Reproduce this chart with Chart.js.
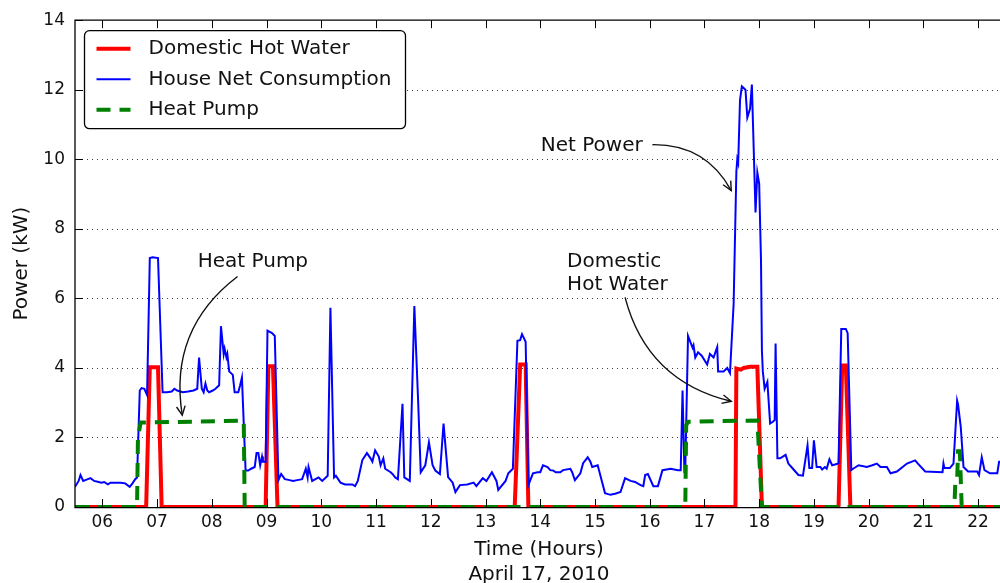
<!DOCTYPE html>
<html>
<head>
<meta charset="utf-8">
<script src="https://cdn.jsdelivr.net/npm/chart.js@4.4.0/dist/chart.umd.min.js"></script>
<style>
  html, body { margin: 0; padding: 0; background: #fff; overflow: hidden; }
  #wrap { position: relative; width: 1000px; height: 583px; }
</style>
</head>
<body>
<div id="wrap"><canvas id="c"></canvas></div>
<script>
// House power log for April 17, 2010 — time of day (HH:MM) and power in kW.

const netTimes = [
  '05:30','05:34','05:36','05:39','05:42','05:47','05:51','05:56','05:59','06:02','06:06','06:09','06:13','06:20','06:25','06:30','06:33','06:36','06:38',
  '06:41','06:43','06:46','06:49','06:52','06:55','07:01','07:06','07:11','07:16','07:19','07:22','07:28','07:34','07:40','07:44','07:46','07:49','07:51',
  '07:53','07:55','07:57','08:01','08:04','08:08','08:10','08:13','08:14','08:16','08:17','08:19','08:23','08:25','08:29','08:31','08:33','08:37','08:40',
  '08:43','08:47','08:49','08:51','08:53','08:55','08:56','08:59','09:01','09:06','09:09','09:13','09:16','09:20','09:24','09:29','09:35','09:39','09:43',
  '09:45','09:46','09:50','09:57','10:01','10:07','10:10','10:14','10:16','10:21','10:26','10:34','10:37','10:40','10:45','10:50','10:54','10:56','10:59',
  '11:03','11:05','11:08','11:10','11:16','11:18','11:21','11:24','11:29','11:31','11:37','11:42','11:46','11:49','11:54','11:58','12:02','12:05','12:10',
  '12:14','12:19','12:24','12:27','12:32','12:40','12:47','12:50','12:57','13:01','13:07','13:12','13:14','13:22','13:25','13:30','13:35','13:38','13:40',
  '13:44','13:47','13:52','13:57','14:00','14:03','14:08','14:11','14:14','14:17','14:22','14:25','14:33','14:35','14:38','14:44','14:47','14:52','14:55',
  '14:57','15:03','15:07','15:11','15:17','15:22','15:28','15:33','15:39','15:44','15:50','15:53','15:55','15:58','16:04','16:09','16:14','16:23','16:31',
  '16:34','16:36','16:38','16:39','16:42','16:47','16:48','16:50','16:53','16:57','17:03','17:06','17:10','17:14','17:15','17:21','17:25','17:28','17:32',
  '17:35','17:36','17:37','17:39','17:41','17:45','17:47','17:50','17:52','17:56','17:58','18:00','18:02','18:03','18:04','18:06','18:09','18:12','18:15',
  '18:17','18:18','18:20','18:23','18:29','18:32','18:37','18:43','18:48','18:53','18:55','18:58','19:00','19:03','19:07','19:09','19:12','19:14','19:17',
  '19:20','19:23','19:27','19:30','19:35','19:37','19:41','19:43','19:49','19:58','20:04','20:09','20:13','20:20','20:24','20:31','20:42','20:51','20:54',
  '21:02','21:21','21:22','21:23','21:29','21:33','21:37','21:38','21:41','21:44','21:49','21:59','22:01','22:04','22:07','22:13','22:21','22:23','22:27'
];
const netKW = [
  0.58,0.75,0.92,0.75,0.78,0.83,0.75,0.72,0.70,0.72,0.65,0.70,0.70,0.70,0.68,0.58,0.68,0.80,0.85,
  3.35,3.42,3.40,3.22,7.16,7.18,7.16,3.30,3.30,3.32,3.40,3.35,3.30,3.32,3.35,3.40,4.30,3.40,3.30,
  3.55,3.35,3.30,3.35,3.40,3.50,5.20,4.40,4.55,4.30,4.40,3.90,3.80,3.30,3.30,3.50,3.72,1.05,1.05,
  1.10,1.15,1.55,1.55,1.20,1.45,1.30,1.30,5.07,5.00,4.92,0.77,0.95,0.80,0.78,0.75,0.78,0.80,1.10,
  0.85,1.15,0.75,0.85,0.75,0.90,5.73,0.85,0.90,0.70,0.65,0.65,0.60,0.75,1.35,1.55,1.40,1.30,1.63,
  1.45,1.20,1.40,1.10,1.00,0.95,0.85,0.80,2.97,0.85,0.75,5.78,3.15,1.00,1.20,1.86,1.20,1.05,0.95,
  2.40,0.86,0.70,0.43,0.63,0.65,0.70,0.60,0.83,0.75,1.00,0.75,0.49,0.75,0.97,1.10,4.78,4.80,4.97,
  4.75,0.63,0.97,1.00,1.00,1.20,1.15,1.06,1.05,1.00,1.00,1.06,1.10,1.00,0.77,0.97,1.26,1.43,1.30,
  1.15,1.20,0.80,0.40,0.35,0.38,0.43,0.83,0.75,0.72,0.63,0.60,0.92,0.95,0.60,0.60,1.06,1.10,1.06,
  1.06,3.35,1.06,1.10,4.92,4.58,4.65,4.30,4.45,4.35,4.10,4.40,4.30,4.60,3.90,3.90,4.00,3.85,5.84,
  9.65,10.0,9.90,11.7,12.1,12.0,11.2,11.45,12.15,8.47,9.62,9.30,7.10,4.50,3.90,3.40,3.60,2.40,2.45,
  2.50,4.70,1.40,1.40,1.50,1.25,1.10,0.92,0.90,1.77,1.12,1.12,1.92,1.15,1.15,1.08,1.15,1.10,1.37,
  1.20,1.22,1.25,5.12,5.12,5.00,1.06,1.10,1.20,1.15,1.20,1.25,1.15,1.15,0.97,1.02,1.25,1.34,1.25,
  1.02,1.00,1.25,1.12,1.12,1.25,3.06,2.95,2.30,1.15,1.02,1.02,0.92,1.43,1.06,0.97,0.97,1.30,1.30
];

const dhwTimes = ['05:30','06:48','06:52','07:01','07:05','08:59','09:02','09:07','09:12','13:32','13:38','13:44','13:47',
                  '17:34','17:35','17:40','17:43','17:50','17:58','18:03','19:27','19:31','19:35','19:40','22:30'];
const dhwKW    = [0, 0, 4.02, 4.02, 0, 0, 4.05, 4.05, 0, 0, 4.1, 4.1, 0,
                  0, 3.98, 3.95, 4.0, 4.03, 4.03, 0, 0, 4.07, 4.07, 0, 0];

const hpTimes = ['05:30','06:38','06:39','06:42','08:35','08:36','16:39','16:40','16:42','17:58','18:03',
                 '21:34','21:35','21:37','21:38','21:40','21:42','22:30'];
const hpKW    = [0, 0, 2.0, 2.43, 2.48, 0, 0, 2.35, 2.45, 2.49, 0,
                 0, 0.7, 0.75, 1.6, 1.6, 0, 0];

const hourTicks  = [6, 7, 8, 9, 10, 11, 12, 13, 14, 15, 16, 17, 18, 19, 20, 21, 22];
const powerTicks = [0, 2, 4, 6, 8, 10, 12, 14];

const seriesNames = ['Domestic Hot Water', 'House Net Consumption', 'Heat Pump'];

// Callouts: text centre, arrow tail and arrow tip, all in (hour, kW)
const callouts = [
  { lines: ['Heat Pump'],             at: [8.75, 7.12],  from: [8.47, 6.63],  to: [7.46, 2.64], rad: 0.3 },
  { lines: ['Net Power'],             at: [14.94, 10.44], from: [16.05, 10.42], to: [17.49, 9.10], rad: -0.3 },
  { lines: ['Domestic', 'Hot Water'], at: [15.41, 6.78], from: [15.55, 6.03], to: [17.49, 3.04], rad: 0.3 }
];

const toHours = s => { const [h, m] = s.split(':').map(Number); return h + m / 60; };
const pairs = (times, vals) => times.map((t, i) => ({ x: toHours(t), y: vals[i] }));

const FONT = 'DejaVu Sans';
const INK = '#111';

const colors = { dhw: '#ff0000', net: '#0000ff', hp: '#008000' };

function roundRectPath(ctx, x, y, w, h, r) {
  ctx.beginPath();
  ctx.moveTo(x + r, y);
  ctx.arcTo(x + w, y, x + w, y + h, r);
  ctx.arcTo(x + w, y + h, x, y + h, r);
  ctx.arcTo(x, y + h, x, y, r);
  ctx.arcTo(x, y, x + w, y, r);
  ctx.closePath();
}

const decorations = {
  id: 'decorations',
  beforeDatasetsDraw(chart) {
    const { ctx, chartArea: a, scales: { y } } = chart;
    ctx.save();
    ctx.strokeStyle = 'rgba(0,0,0,0.75)';
    ctx.lineWidth = 1;
    ctx.setLineDash([1, 4]);
    for (const v of powerTicks) {
      if (v <= y.min || v >= y.max) continue;
      const yy = Math.round(y.getPixelForValue(v)) + 0.5;
      ctx.beginPath(); ctx.moveTo(a.left + 2, yy); ctx.lineTo(a.right, yy); ctx.stroke();
    }
    ctx.restore();
  },
  afterDatasetsDraw(chart) {
    const { ctx, chartArea: a, scales: { x, y } } = chart;
    ctx.save();
    // axes frame
    ctx.strokeStyle = '#000';
    ctx.lineWidth = 1.3;
    ctx.setLineDash([]);
    ctx.beginPath();
    ctx.moveTo(a.right + 2, a.top); ctx.lineTo(a.left, a.top);
    ctx.lineTo(a.left, a.bottom + 0.6); ctx.lineTo(a.right + 2, a.bottom + 0.6);
    ctx.stroke();
    // inward tick marks
    ctx.lineWidth = 1;
    const tl = 8;
    for (const h of hourTicks) {
      const xx = Math.round(x.getPixelForValue(h)) + 0.5;
      ctx.beginPath();
      ctx.moveTo(xx, a.bottom); ctx.lineTo(xx, a.bottom - tl);
      ctx.moveTo(xx, a.top); ctx.lineTo(xx, a.top + tl);
      ctx.stroke();
    }
    for (const v of powerTicks) {
      const yy = Math.round(y.getPixelForValue(v)) + 0.5;
      ctx.beginPath(); ctx.moveTo(a.left, yy); ctx.lineTo(a.left + tl, yy); ctx.stroke();
    }

    // callouts with curved arrows
    ctx.font = `20px "${FONT}"`;
    ctx.fillStyle = INK;
    ctx.textBaseline = 'alphabetic';
    ctx.textAlign = 'left';
    const lh = 23.3, cap = 14.6;
    for (const c of callouts) {
      const cx = x.getPixelForValue(c.at[0]);
      const cy = y.getPixelForValue(c.at[1]);
      const maxW = Math.max(...c.lines.map(s => ctx.measureText(s).width));
      const left = cx - maxW / 2;
      const firstCenter = cy - (c.lines.length - 1) * lh / 2;
      c.lines.forEach((s, i) => ctx.fillText(s, left, firstCenter + i * lh + cap / 2));

      const x0 = x.getPixelForValue(c.from[0]), y0 = y.getPixelForValue(c.from[1]);
      const x1 = x.getPixelForValue(c.to[0]),   y1 = y.getPixelForValue(c.to[1]);
      const mx = (x0 + x1) / 2, my = (y0 + y1) / 2;
      const dx = x1 - x0, dyUp = -(y1 - y0);
      const qx = mx + c.rad * dyUp;
      const qy = my + c.rad * dx;
      ctx.strokeStyle = INK;
      ctx.lineWidth = 1.4;
      ctx.beginPath(); ctx.moveTo(x0, y0); ctx.quadraticCurveTo(qx, qy, x1, y1); ctx.stroke();
      const ang = Math.atan2(y1 - qy, x1 - qx);
      const hl = 10, hw = 0.45;
      ctx.beginPath();
      ctx.moveTo(x1 - hl * Math.cos(ang - hw), y1 - hl * Math.sin(ang - hw));
      ctx.lineTo(x1, y1);
      ctx.lineTo(x1 - hl * Math.cos(ang + hw), y1 - hl * Math.sin(ang + hw));
      ctx.stroke();
    }

    // legend box
    const lx = a.left + 9.5, ly = a.top + 10.5, lw = 321, lhBox = 98;
    roundRectPath(ctx, lx, ly, lw, lhBox, 5);
    ctx.fillStyle = '#fff'; ctx.fill();
    ctx.strokeStyle = '#000'; ctx.lineWidth = 1.3; ctx.stroke();
    const styles = [
      { color: colors.dhw, width: 4, dash: [] },
      { color: colors.net, width: 2, dash: [] },
      { color: colors.hp, width: 4, dash: [14, 9] }
    ];
    seriesNames.forEach((name, i) => {
      const base = ly + 23.5 + i * 30.5;
      const sy = base - 5.5;
      ctx.strokeStyle = styles[i].color;
      ctx.lineWidth = styles[i].width;
      ctx.setLineDash(styles[i].dash);
      ctx.lineCap = 'butt';
      ctx.beginPath(); ctx.moveTo(lx + 12, sy); ctx.lineTo(lx + 46, sy); ctx.stroke();
      ctx.setLineDash([]);
      ctx.fillStyle = INK;
      ctx.fillText(name, lx + 64, base);
    });
    ctx.restore();
  },
  afterDraw(chart) {
    const { ctx, chartArea: a } = chart;
    ctx.save();
    ctx.fillStyle = INK;
    ctx.font = `20px "${FONT}"`;
    ctx.textAlign = 'center';
    ctx.textBaseline = 'alphabetic';
    const midX = (a.left + a.right) / 2 + 1.5;
    ctx.fillText('Time (Hours)', midX, a.bottom + 48);
    ctx.fillText('April 17, 2010', midX, a.bottom + 72.5);
    ctx.translate(27, (a.top + a.bottom) / 2);
    ctx.rotate(-Math.PI / 2);
    ctx.fillText('Power (kW)', 0, 0);
    ctx.restore();
  }
};

new Chart(document.getElementById('c'), {
  type: 'line',
  data: {
    datasets: [
      { label: seriesNames[0], data: pairs(dhwTimes, dhwKW), borderColor: colors.dhw, borderWidth: 4, order: 3, clip: 0 },
      { label: seriesNames[1], data: pairs(netTimes, netKW), borderColor: colors.net, borderWidth: 2, order: 2, clip: 0 },
      { label: seriesNames[2], data: pairs(hpTimes, hpKW), borderColor: colors.hp, borderWidth: 4, borderDash: [14, 9], order: 1, clip: 0 }
    ]
  },
  options: {
    responsive: true,
    maintainAspectRatio: false,
    animation: false,
    events: [],
    elements: { point: { radius: 0 }, line: { tension: 0, fill: false } },
    layout: { padding: { top: 19, left: 0, right: 0, bottom: 0 } },
    plugins: { legend: { display: false }, tooltip: { enabled: false } },
    scales: {
      x: {
        type: 'linear', min: 5.5, max: 22.4,
        afterBuildTicks: s => { s.ticks = hourTicks.map(v => ({ value: v })); },
        afterFit: s => { s.height = 76; },
        ticks: {
          callback: v => String(v).padStart(2, '0'),
          font: { family: FONT, size: 17 }, color: INK, padding: 5,
          maxRotation: 0, autoSkip: false
        },
        grid: { display: false, drawTicks: false },
        border: { display: false }
      },
      y: {
        min: 0, max: 14,
        afterBuildTicks: s => { s.ticks = powerTicks.map(v => ({ value: v })); },
        afterFit: s => { s.width = 75; },
        ticks: { font: { family: FONT, size: 17 }, color: INK, padding: 10 },
        grid: { display: false, drawTicks: false },
        border: { display: false }
      }
    }
  },
  plugins: [decorations]
});
</script>
</body>
</html>
